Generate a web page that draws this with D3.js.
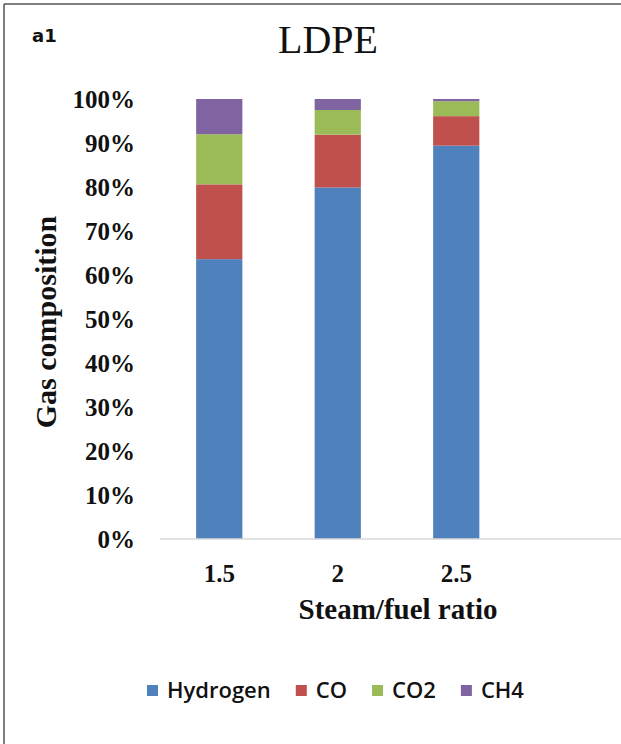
<!DOCTYPE html>
<html>
<head>
<meta charset="utf-8">
<script src="https://cdn.jsdelivr.net/npm/d3@7/dist/d3.min.js"></script>
<style>
  html, body { margin: 0; padding: 0; background: #fff; }
  svg { display: block; }
</style>
</head>
<body>
<div id="chart"></div>
<script>
// Gas composition (%) from LDPE steam gasification at three steam/fuel ratios
const categories = ["1.5", "2", "2.5"];
const seriesNames = ["Hydrogen", "CO", "CO2", "CH4"];
const hydrogen = [63.6, 79.9, 89.4];
const co       = [17.0, 12.0, 6.7];
const co2      = [11.4, 5.6, 3.4];
const ch4      = [8.0, 2.5, 0.5];
const yTicks   = [0, 10, 20, 30, 40, 50, 60, 70, 80, 90, 100];
const colors   = ["#4F81BD", "#C0504D", "#9BBB59", "#8064A2"];

const W = 621, H = 744;
const plot = { left: 160, right: 515.5, top: 99, bottom: 539 };

const rows = categories.map((c, i) => ({
  cat: c, Hydrogen: hydrogen[i], CO: co[i], CO2: co2[i], CH4: ch4[i]
}));

const svg = d3.select("#chart").append("svg")
  .attr("width", W).attr("height", H);

svg.append("rect").attr("width", W).attr("height", H).attr("fill", "#fff");

// frame (top and left edges)
svg.append("line").attr("x1", 4).attr("x2", W).attr("y1", 4).attr("y2", 4)
  .attr("stroke", "#555").attr("stroke-width", 1.5);
svg.append("line").attr("x1", 4).attr("x2", 4).attr("y1", 4).attr("y2", H)
  .attr("stroke", "#555").attr("stroke-width", 1.5);

const x = d3.scaleBand().domain(categories)
  .range([plot.left, plot.right]).paddingInner(0.61).paddingOuter(0.305);
const y = d3.scaleLinear().domain([0, 100]).range([plot.bottom, plot.top]);
const color = d3.scaleOrdinal().domain(seriesNames).range(colors);

const stacked = d3.stack().keys(seriesNames)(rows);

svg.append("g").selectAll("g").data(stacked).join("g")
  .attr("fill", d => color(d.key))
  .selectAll("rect").data(d => d).join("rect")
  .attr("x", d => x(d.data.cat))
  .attr("width", x.bandwidth())
  .attr("y", d => y(d[1]))
  .attr("height", d => y(d[0]) - y(d[1]));

// category axis line runs to the right edge
svg.append("line")
  .attr("x1", plot.left).attr("x2", W)
  .attr("y1", y(0)).attr("y2", y(0))
  .attr("stroke", "#d9d9d9").attr("stroke-width", 1.5);

const serif = "'Liberation Serif', 'Times New Roman', serif";

// y axis labels
const yAxis = svg.append("g")
  .attr("transform", `translate(${plot.left},0)`)
  .call(d3.axisLeft(y).tickValues(yTicks).tickSize(0).tickPadding(25)
    .tickFormat(d => d + "%"));
yAxis.select(".domain").remove();
yAxis.selectAll("text")
  .attr("font-family", serif).attr("font-size", 25).attr("font-weight", "bold")
  .attr("fill", "#111");

// x axis labels
const xAxis = svg.append("g")
  .attr("transform", `translate(0,${y(0)})`)
  .call(d3.axisBottom(x).tickSize(0));
xAxis.select(".domain").remove();
xAxis.selectAll("text")
  .attr("dy", null).attr("y", 43)
  .attr("font-family", serif).attr("font-size", 25).attr("font-weight", "bold")
  .attr("fill", "#111");

// titles
svg.append("text").attr("x", 328).attr("y", 53).attr("text-anchor", "middle")
  .attr("font-family", serif).attr("font-size", 40).attr("fill", "#111")
  .text("LDPE");

svg.append("text").attr("x", 32).attr("y", 42)
  .attr("font-family", "'DejaVu Sans', Verdana, sans-serif")
  .attr("font-size", 18).attr("font-weight", "bold").attr("fill", "#111")
  .text("a1");

svg.append("text").attr("x", 398).attr("y", 619).attr("text-anchor", "middle")
  .attr("font-family", serif).attr("font-size", 29).attr("font-weight", "bold")
  .attr("fill", "#111").text("Steam/fuel ratio");

svg.append("text")
  .attr("transform", `translate(56,${(plot.top + plot.bottom) / 2 + 3}) rotate(-90)`)
  .attr("text-anchor", "middle")
  .attr("font-family", serif).attr("font-size", 30).attr("font-weight", "bold")
  .attr("fill", "#111").text("Gas composition");

// legend
const legend = svg.append("g").attr("transform", "translate(0,698)");
let lx = 147;
seriesNames.forEach(name => {
  const g = legend.append("g").attr("transform", `translate(${lx},0)`);
  g.append("rect").attr("x", 0).attr("y", -13).attr("width", 11).attr("height", 11)
    .attr("fill", color(name));
  const t = g.append("text").attr("x", 20).attr("y", 0)
    .attr("font-family", "'Open Sans', sans-serif").attr("font-size", 22)
    .attr("font-weight", 600).attr("fill", "#111").text(name);
  lx += 20 + t.node().getComputedTextLength() + 25;
});
</script>
</body>
</html>
